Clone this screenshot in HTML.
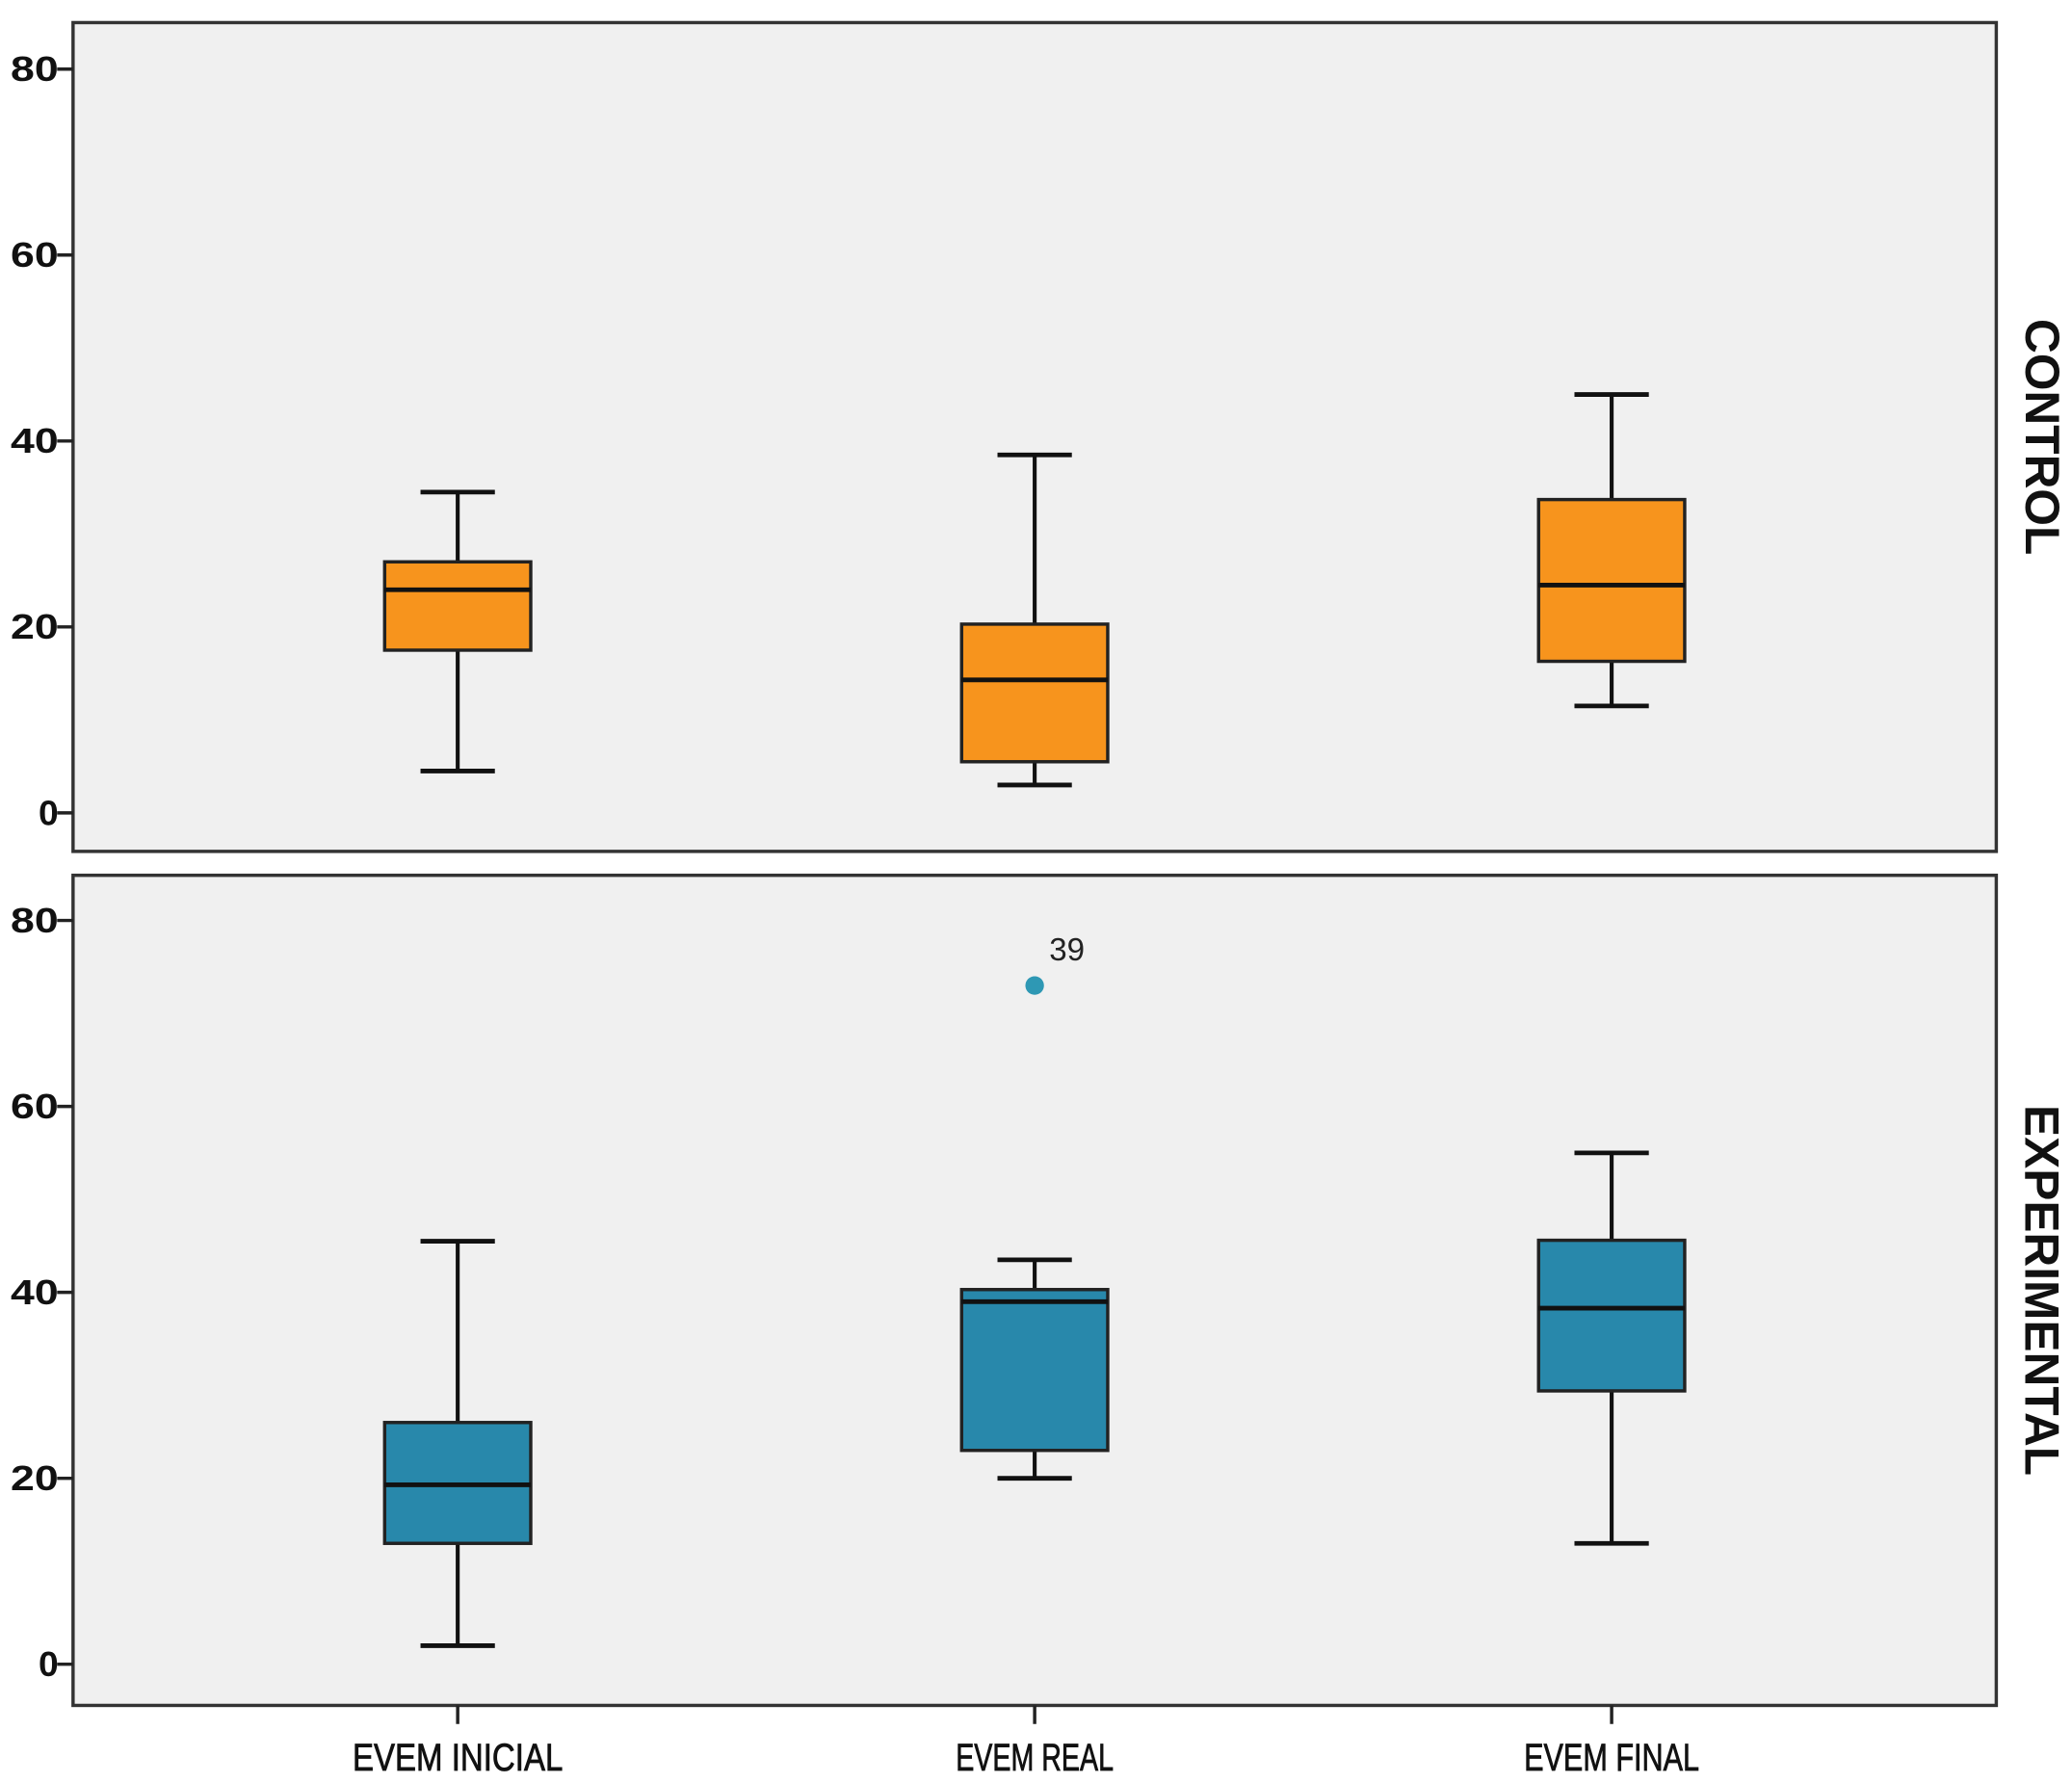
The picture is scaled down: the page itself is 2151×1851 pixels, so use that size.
<!DOCTYPE html>
<html><head><meta charset="utf-8"><style>
html,body{margin:0;padding:0;background:#fff}
svg{display:block}
text{font-family:"Liberation Sans",sans-serif}
</style></head><body>
<svg id="chart" width="2151" height="1851" viewBox="0 0 1560 1342.4" xmlns="http://www.w3.org/2000/svg"></svg>
<script>
const categories = ["EVEM INICIAL", "EVEM REAL", "EVEM FINAL"];
const panels = ["CONTROL", "EXPERIMENTAL"];
const yTicks = [0, 20, 40, 60, 80];
// [min, q1, median, q3, max]
const controlStats = [[4.5,17.5,24,27,34.5],[3,5.5,14.3,20.3,38.5],[11.5,16.3,24.5,33.7,45]];
const experimentalStats = [[2,13,19.3,26,45.5],[20,23,39,40.3,43.5],[13,29.4,38.3,45.6,55]];
const outlierValues = [[],[],[]];
const expOutlierValues = [[],[73],[]];
const expOutlierLabels = [[],["39"],[]];

const NS = "http://www.w3.org/2000/svg";
const svg = document.getElementById("chart");
function mk(tag, attrs, parent){const e=document.createElementNS(NS,tag);for(const k in attrs)e.setAttribute(k,attrs[k]);(parent||svg).appendChild(e);return e;}

const plotL=55, plotR=1503;
const layouts=[{top:17,bottom:641,y0:612,y80:52,color:"#F7941D"},{top:659,bottom:1284,y0:1253,y80:693,color:"#2888AB"}];
const xCenters=i=>plotL+(plotR-plotL)*(0.2+0.3*i);
const allStats=[controlStats,experimentalStats];
const allOut=[outlierValues,expOutlierValues];
const allOutLab=[[[],[],[]],expOutlierLabels];

layouts.forEach((L,p)=>{
  const y=v=>L.y0+(L.y80-L.y0)*v/80;
  const g=mk("g",{});
  
  
  const bg=mk("rect",{x:plotL,y:L.top,width:plotR-plotL,height:L.bottom-L.top,fill:"#F0F0F0",stroke:"#333",'stroke-width':2.5},g);
  
  
  yTicks.forEach(t=>{
    mk("line",{x1:plotL-12,x2:plotL,y1:y(t),y2:y(t),stroke:"#222",'stroke-width':2.5},g);
    const tx=mk("text",{x:plotL-11,y:y(t)+9,'text-anchor':'end','font-size':26,'font-weight':'bold',fill:"#111",textLength:t>0?36:15,lengthAdjust:"spacingAndGlyphs"},g);
    tx.textContent=t;
    
    
  });
  allStats[p].forEach((s,i)=>{
    const cx=xCenters(i), bw=110, cw=56;
    const bx=mk("g",{},g);
    
    
    mk("line",{x1:cx,x2:cx,y1:y(s[0]),y2:y(s[1]),stroke:"#111",'stroke-width':3},bx);
    mk("line",{x1:cx,x2:cx,y1:y(s[3]),y2:y(s[4]),stroke:"#111",'stroke-width':3},bx);
    mk("line",{x1:cx-cw/2,x2:cx+cw/2,y1:y(s[0]),y2:y(s[0]),stroke:"#111",'stroke-width':3.5},bx);
    mk("line",{x1:cx-cw/2,x2:cx+cw/2,y1:y(s[4]),y2:y(s[4]),stroke:"#111",'stroke-width':3.5},bx);
    mk("rect",{x:cx-bw/2,y:y(s[3]),width:bw,height:y(s[1])-y(s[3]),fill:L.color,stroke:"#222",'stroke-width':2.5},bx);
    mk("line",{x1:cx-bw/2,x2:cx+bw/2,y1:y(s[2]),y2:y(s[2]),stroke:"#111",'stroke-width':3.5},bx);
    allOut[p][i].forEach((v,k)=>{
      const c=mk("circle",{cx:cx,cy:y(v),r:7,fill:"#2E98B4"},g);
      
      
      const lt=mk("text",{x:cx+11,y:y(v)-19,'font-size':24,fill:"#222"},g);
      lt.textContent=allOutLab[p][i][k];
      
      
    });
  });
  const cyMid=(L.top+L.bottom)/2;
  const pl=mk("text",{x:1525,y:cyMid,transform:`rotate(90 1525 ${cyMid})`,'text-anchor':'middle','font-size':36,'font-weight':'bold',fill:"#111"},g);
  pl.textContent=panels[p];
  
  
});
categories.forEach((c,i)=>{
  const cx=xCenters(i);
  mk("line",{x1:cx,x2:cx,y1:1284,y2:1298,stroke:"#222",'stroke-width':2.5});
  const t=mk("text",{x:cx,y:1333,'text-anchor':'middle','font-size':29,fill:"#111",stroke:"#111",'stroke-width':0.6,textLength:c.length*13.2,lengthAdjust:"spacingAndGlyphs"});
  t.textContent=c;
  
  
});
</script>
</body></html>
